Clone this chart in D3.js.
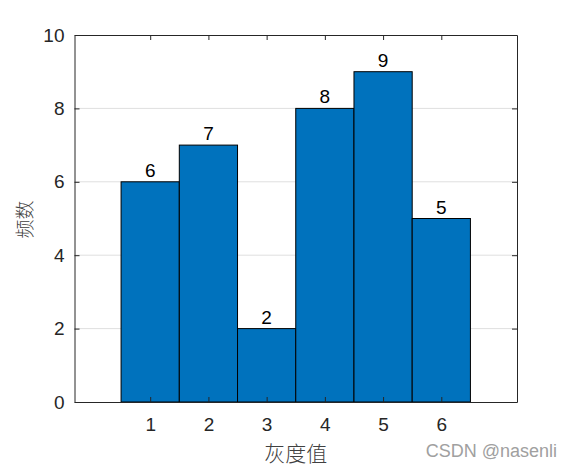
<!DOCTYPE html>
<html lang="zh">
<head>
<meta charset="UTF-8">
<title>灰度直方图</title>
<script src="https://d3js.org/d3.v7.min.js"></script>
<style>
  body { margin: 0; background: #fff; }
  text { font-family: "Liberation Sans", Arial, sans-serif; }
  .cjk { font-family: "Noto Sans CJK SC", sans-serif; fill: #404040; font-weight: 300; }
</style>
</head>
<body>
<svg width="572" height="467"></svg>
<script>
const grayLevels = [1, 2, 3, 4, 5, 6];
const counts = [6, 7, 2, 8, 9, 5];
const yTicks = [0, 2, 4, 6, 8, 10];

const svg = d3.select("svg");
const m = { left: 74.5, right: 55, top: 35, bottom: 65 };
const W = 572, H = 467;

const x = d3.scaleLinear().domain([-0.3, 7.3]).range([m.left, W - m.right]);
const y = d3.scaleLinear().domain([0, 10]).range([H - m.bottom, m.top]);

// grid
svg.append("g").selectAll("line")
  .data(yTicks.slice(1, -1))
  .enter().append("line")
  .attr("x1", x.range()[0]).attr("x2", x.range()[1])
  .attr("y1", d => y(d)).attr("y2", d => y(d))
  .attr("stroke", "#dfdfdf").attr("stroke-width", 1);

// bars
svg.append("g").selectAll("rect")
  .data(grayLevels)
  .enter().append("rect")
  .attr("x", d => x(d - 0.5))
  .attr("width", d => x(d + 0.5) - x(d - 0.5))
  .attr("y", (d, i) => y(counts[i]))
  .attr("height", (d, i) => y(0) - y(counts[i]))
  .attr("fill", "#0072BD")
  .attr("stroke", "#000").attr("stroke-width", 1);

// value labels
svg.append("g").selectAll("text")
  .data(grayLevels)
  .enter().append("text")
  .attr("x", d => x(d))
  .attr("y", (d, i) => y(counts[i]) - 5)
  .attr("text-anchor", "middle")
  .attr("font-size", 19)
  .attr("fill", "#000")
  .text((d, i) => counts[i]);

// axes (box style with mirrored ticks)
const tk = 5;
const gx = svg.append("g").attr("transform", `translate(0,${y(0)})`)
  .call(d3.axisBottom(x).tickValues(grayLevels).tickSize(-tk).tickPadding(16).tickSizeOuter(0));
const gxTop = svg.append("g").attr("transform", `translate(0,${y(10)})`)
  .call(d3.axisTop(x).tickValues(grayLevels).tickSize(-tk).tickFormat("").tickSizeOuter(0));
const gy = svg.append("g").attr("transform", `translate(${x(-0.3)},0)`)
  .call(d3.axisLeft(y).tickValues(yTicks).tickSize(-tk).tickPadding(10).tickSizeOuter(0));
const gyR = svg.append("g").attr("transform", `translate(${x(7.3)},0)`)
  .call(d3.axisRight(y).tickValues(yTicks).tickSize(-tk).tickFormat("").tickSizeOuter(0));
[gx, gxTop, gy, gyR].forEach(g => {
  g.attr("font-size", 19).attr("font-family", "Liberation Sans, Arial, sans-serif");
  g.select(".domain").attr("stroke", "#262626");
  g.selectAll(".tick line").attr("stroke", "#262626");
  g.selectAll(".tick text").attr("fill", "#262626");
});

// axis labels
svg.append("text").attr("class", "cjk")
  .attr("font-size", 21)
  .attr("x", x(3.5)).attr("y", 461)
  .attr("text-anchor", "middle").text("灰度值");
svg.append("text").attr("class", "cjk")
  .attr("font-size", 19)
  .attr("transform", `translate(32,${y(5) + 1}) rotate(-90)`)
  .attr("text-anchor", "middle").text("频数");

// watermark
svg.append("text")
  .attr("x", 557).attr("y", 457)
  .attr("text-anchor", "end")
  .attr("font-size", 18)
  .attr("fill", "#a0a0a0")
  .text("CSDN @nasenli");
</script>
</body>
</html>
